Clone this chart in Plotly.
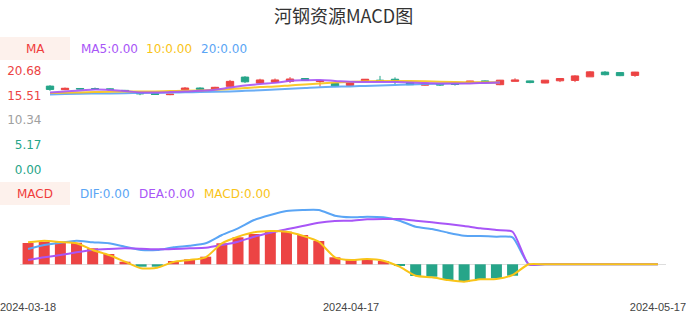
import plotly.graph_objects as go

W, H = 686, 320

dates = ["2024-03-18","2024-03-19","2024-03-20","2024-03-21","2024-03-22",
         "2024-03-25","2024-03-26","2024-03-27","2024-03-28","2024-03-29",
         "2024-04-01","2024-04-02","2024-04-03","2024-04-08","2024-04-09",
         "2024-04-10","2024-04-11","2024-04-12","2024-04-15","2024-04-16",
         "2024-04-17","2024-04-18","2024-04-19","2024-04-22","2024-04-23",
         "2024-04-24","2024-04-25","2024-04-26","2024-04-29","2024-04-30",
         "2024-05-06","2024-05-07","2024-05-08","2024-05-09","2024-05-10",
         "2024-05-13","2024-05-14","2024-05-15","2024-05-16","2024-05-17"]

open_ = [17.5, 16.75, 17.0, 16.95, 16.9, 16.6, 16.0, 15.95, 15.7, 16.75,
         17.1, 16.85, 17.45, 19.4, 18.15, 18.3, 18.5, 19.1, 18.45, 18.05,
         17.65, 18.65, 18.75, 18.95, 18.2, 17.7, 17.9, 17.95, 18.3, 18.6,
         17.8, 18.5, 18.6, 18.15, 18.62, 18.7, 19.45, 20.45, 20.35, 19.75]
high = [17.7, 17.2, 17.05, 17.2, 17.0, 16.7, 16.3, 16.0, 15.85, 17.3,
        17.25, 17.35, 18.8, 19.6, 19.05, 19.1, 19.4, 19.15, 18.65, 18.1,
        18.25, 19.0, 19.65, 19.35, 18.25, 18.15, 17.95, 18.05, 18.6, 18.7,
        18.8, 19.15, 18.65, 18.8, 19.15, 19.8, 20.65, 20.68, 20.45, 20.5]
low = [16.5, 16.65, 16.85, 16.7, 16.7, 16.4, 15.6, 15.7, 15.6, 16.7,
       16.75, 16.8, 17.25, 18.15, 18.1, 18.25, 18.15, 18.65, 17.4, 17.45,
       17.6, 18.6, 18.6, 17.93, 17.75, 17.6, 17.55, 17.6, 18.25, 18.4,
       17.7, 18.5, 18.1, 18.1, 18.35, 18.35, 19.45, 19.75, 19.6, 19.45]
close = [16.8, 17.05, 16.9, 16.93, 16.85, 16.5, 15.9, 15.75, 15.8, 17.1,
         16.85, 17.25, 18.5, 18.4, 18.8, 18.8, 19.0, 18.7, 18.6, 17.5,
         18.2, 18.95, 18.65, 18.65, 17.8, 18.1, 17.75, 17.85, 18.55, 18.45,
         18.75, 18.8, 18.25, 18.75, 19.1, 19.65, 20.5, 19.9, 19.7, 20.45]

ma5 = [16.18, 16.39, 16.56, 16.81, 16.67, 16.46, 16.18, 16.18, 16.25, 16.35,
       16.52, 16.73, 17.19, 17.61, 17.93, 18.18, 18.62, 18.73, 18.77, 18.6,
       18.41, 18.39, 18.39, 18.35, 18.28, 18.14, 18.07, 18.03, 18.07, 18.18, 18.28]
ma10 = [16.04, 16.1, 16.18, 16.25, 16.31, 16.35, 16.35, 16.39, 16.46, 16.52,
        16.6, 16.73, 16.88, 17.09, 17.3, 17.44, 17.65, 17.86, 18.03, 18.24,
        18.39, 18.52, 18.56, 18.56, 18.56, 18.5, 18.41, 18.35, 18.33, 18.31, 18.28]
ma20 = [15.76, 15.83, 15.89, 15.93, 15.97, 16.01, 16.06, 16.1, 16.14, 16.2,
        16.25, 16.31, 16.39, 16.5, 16.62, 16.77, 16.92, 17.09, 17.26, 17.36,
        17.44, 17.55, 17.65, 17.74, 17.82, 17.93, 18.01, 18.1, 18.16, 18.22, 18.28]

macd_bar = [0.213, 0.226, 0.22, 0.216, 0.16, 0.103, 0.026, -0.024, -0.024, 0.033,
            0.05, 0.076, 0.21, 0.27, 0.303, 0.326, 0.326, 0.293, 0.233, 0.07,
            0.043, 0.053, 0.033, -0.014, -0.117, -0.124, -0.157, -0.177, -0.15, -0.14,
            -0.114, 0, 0, 0, 0, 0, 0, 0, 0, 0]
macd_line = [0.22, 0.236, 0.223, 0.21, 0.143, 0.093, 0.026, -0.04, -0.034, 0.023,
             0.043, 0.07, 0.21, 0.276, 0.32, 0.333, 0.326, 0.286, 0.226, 0.07,
             0.043, 0.053, 0.036, -0.024, -0.114, -0.13, -0.157, -0.174, -0.15, -0.147,
             -0.107, 0, 0, 0, 0, 0, 0, 0, 0, 0]
dif = [0.153, 0.193, 0.216, 0.236, 0.22, 0.21, 0.176, 0.143, 0.143, 0.17,
       0.186, 0.21, 0.293, 0.36, 0.443, 0.493, 0.533, 0.543, 0.543, 0.486,
       0.47, 0.476, 0.47, 0.436, 0.376, 0.353, 0.316, 0.286, 0.283, 0.276,
       0.27, 0, 0, 0, 0, 0, 0, 0, 0, 0]
dea = [0.043, 0.07, 0.093, 0.12, 0.143, 0.153, 0.16, 0.156, 0.15, 0.153,
       0.16, 0.166, 0.193, 0.226, 0.276, 0.316, 0.35, 0.383, 0.416, 0.433,
       0.436, 0.45, 0.453, 0.453, 0.436, 0.42, 0.403, 0.383, 0.36, 0.343,
       0.326, 0, 0, 0, 0, 0, 0, 0, 0, 0]

price_ticks = [0.00, 5.17, 10.34, 15.51, 20.68]
tick_dates = ["2024-03-18", "2024-04-17", "2024-05-17"]

RED = "#ec4444"
GREEN = "#26a589"
PURPLE = "#a855f7"
YELLOW = "#f9c418"
BLUE = "#5aa5f5"
tick_colors = [GREEN, GREEN, "#a0a0a0", RED, RED]

def px_x(p):
    return p / W

def px_y(p):
    return 1 - p / H

fig = go.Figure()

fig.add_trace(go.Candlestick(
    x=dates, open=open_, high=high, low=low, close=close,
    increasing=dict(line=dict(color=RED, width=1), fillcolor=RED),
    decreasing=dict(line=dict(color=GREEN, width=1), fillcolor=GREEN),
    xaxis="x", yaxis="y", showlegend=False, hoverinfo="skip"))

for vals, col in [(ma20, BLUE), (ma10, YELLOW), (ma5, PURPLE)]:
    fig.add_trace(go.Scatter(
        x=dates[:len(vals)], y=vals, mode="lines", line=dict(color=col, width=2, shape="spline"),
        opacity=0.9, xaxis="x", yaxis="y", showlegend=False, hoverinfo="skip"))

fig.add_trace(go.Bar(
    x=dates, y=macd_bar, width=0.68,
    marker=dict(color=[RED if v >= 0 else GREEN for v in macd_bar], line=dict(width=0)),
    xaxis="x2", yaxis="y2", showlegend=False, hoverinfo="skip"))

for vals, col in [(dif, BLUE), (dea, PURPLE), (macd_line, YELLOW)]:
    fig.add_trace(go.Scatter(
        x=dates, y=vals, mode="lines", line=dict(color=col, width=2, shape="spline", smoothing=0.6),
        xaxis="x2", yaxis="y2", showlegend=False, hoverinfo="skip"))

macd_top = (264.3 - 205) / 100
macd_bot = (264.3 - 292) / 100

fig.update_layout(
    width=W, height=H,
    margin=dict(l=0, r=0, t=0, b=0, pad=0, autoexpand=False),
    paper_bgcolor="white", plot_bgcolor="white",
    font=dict(family="DejaVu Sans", size=12, color="#333"),
    xaxis=dict(type="category", domain=[px_x(42.5), px_x(642.5)], range=[-0.5, 39.5],
               showticklabels=False, showgrid=False, zeroline=False, showline=False,
               rangeslider=dict(visible=False), anchor="y", automargin=False),
    yaxis=dict(domain=[px_y(169.3), px_y(71)], range=[0, 20.68],
               tickvals=price_ticks,
               ticktext=[f"<span style='color:{c}'>{v:.2f}</span>" for v, c in zip(price_ticks, tick_colors)],
               showgrid=False, zeroline=False, showline=False, ticks="",
               tickfont=dict(family="DejaVu Sans", size=12), anchor="x", automargin=False),
    xaxis2=dict(type="category", domain=[px_x(20), px_x(666)], range=[-0.5, 39.5],
                tickvals=tick_dates, ticktext=tick_dates, showgrid=False, zeroline=False,
                showline=False, ticks="", anchor="y2", automargin=False, ticklabelstandoff=7,
                tickfont=dict(family="Liberation Sans", size=11, color="#444")),
    yaxis2=dict(domain=[px_y(292), px_y(205)], range=[macd_bot, macd_top],
                showticklabels=False, showgrid=False, zeroline=True, zerolinecolor="#dddddd",
                zerolinewidth=1, showline=False, ticks="", anchor="x2", automargin=False),
    bargap=0.3,
)

fig.update_layout(shapes=[
    dict(type="rect", xref="paper", yref="paper", x0=0, x1=px_x(70), y0=px_y(60), y1=px_y(37),
         fillcolor="#fdf1ec", line=dict(width=0), layer="below"),
    dict(type="rect", xref="paper", yref="paper", x0=0, x1=px_x(70), y0=px_y(205), y1=px_y(182),
         fillcolor="#fdf1ec", line=dict(width=0), layer="below"),
])

ann = []
def text(x, y, s, color, size=12, anchor="left", family="DejaVu Sans"):
    ann.append(dict(x=px_x(x), y=px_y(y), xref="paper", yref="paper", text=s, showarrow=False,
                    xanchor=anchor, yanchor="middle", font=dict(color=color, size=size, family=family)))

text(343, 15, "河钢资源MACD图", "#333333", size=18, anchor="center", family="Noto Sans CJK SC")
text(35, 48.5, "MA", "#f03c3c", anchor="center")
text(79, 48.5, "MA5:0.00", PURPLE)
text(144, 48.5, "10:0.00", YELLOW)
text(199, 48.5, "20:0.00", BLUE)
text(35, 193.5, "MACD", "#f03c3c", anchor="center")
text(78, 193.5, "DIF:0.00", BLUE)
text(137, 193.5, "DEA:0.00", PURPLE)
text(202, 193.5, "MACD:0.00", YELLOW)
fig.update_layout(annotations=ann)

fig.write_html("out.html")
